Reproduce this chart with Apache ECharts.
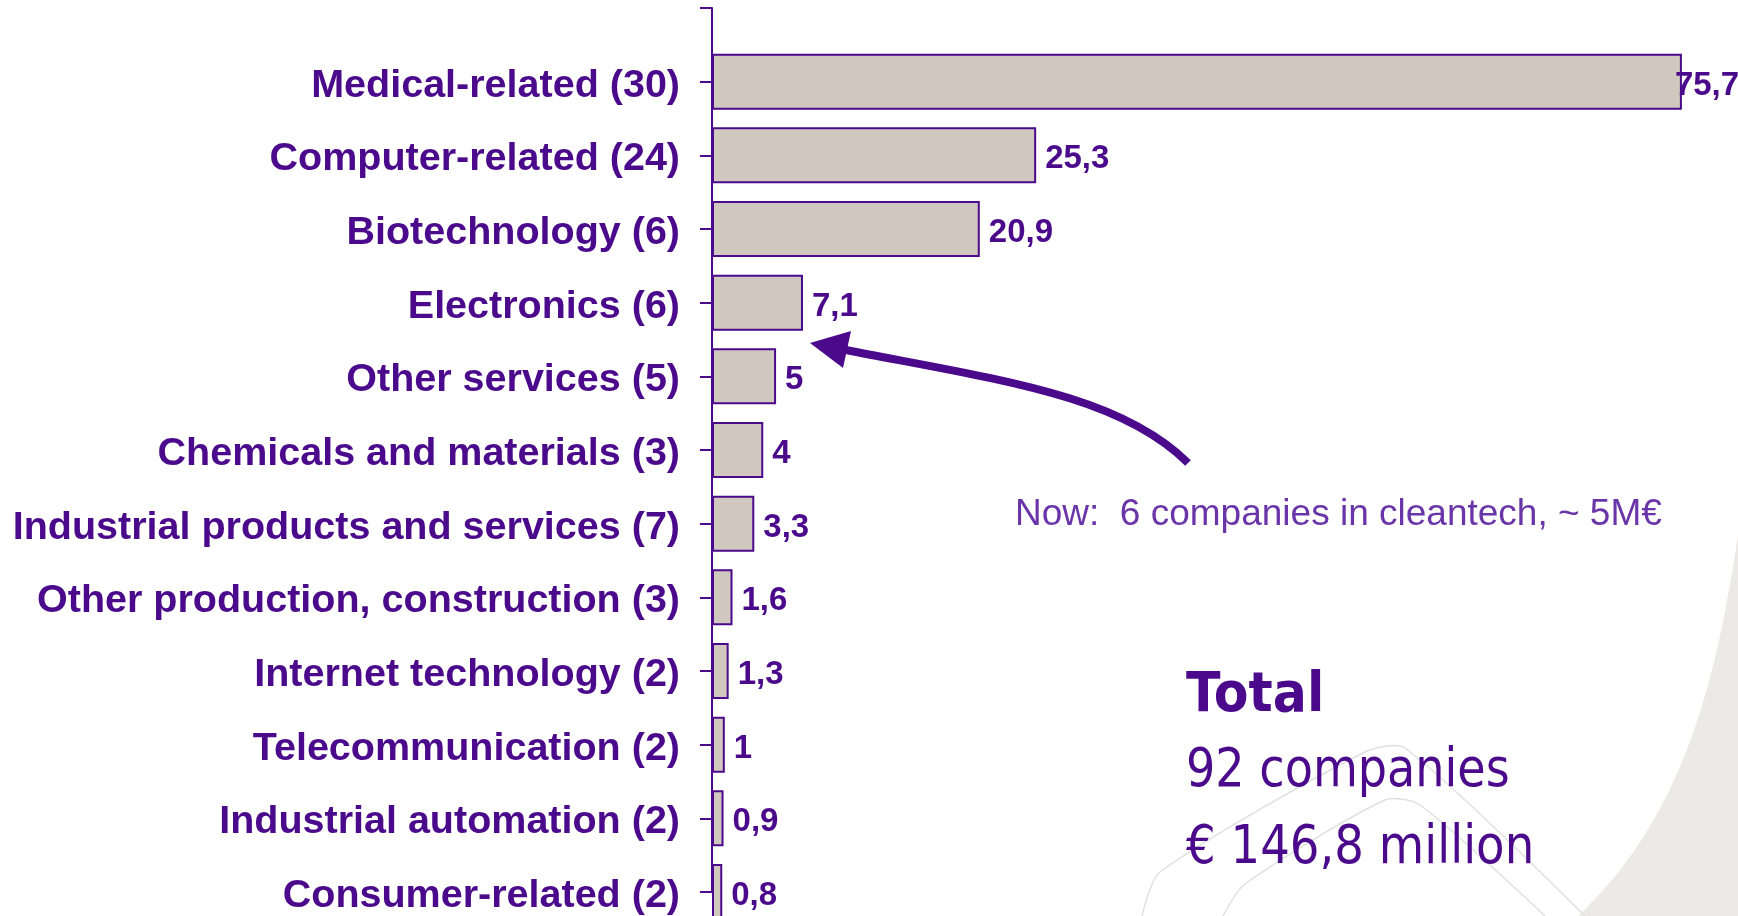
<!DOCTYPE html>
<html>
<head>
<meta charset="utf-8">
<script src="https://cdn.jsdelivr.net/npm/echarts@6/dist/echarts.min.js"></script>
<style>
  html, body { margin: 0; padding: 0; background: #ffffff; }
  #chart { width: 1738px; height: 916px; }
</style>
</head>
<body>
<div id="chart"></div>
<script>
// ---- data ----
const categories = [
  'Medical-related (30)',
  'Computer-related (24)',
  'Biotechnology (6)',
  'Electronics (6)',
  'Other services (5)',
  'Chemicals and materials (3)',
  'Industrial products and services (7)',
  'Other production, construction (3)',
  'Internet technology (2)',
  'Telecommunication (2)',
  'Industrial automation (2)',
  'Consumer-related (2)'
];
const values = [75.7, 25.3, 20.9, 7.1, 5, 4, 3.3, 1.6, 1.3, 1, 0.9, 0.8];
const noteText = 'Now:  6 companies in cleantech, ~ 5M€';
const totalLines = ['Total', '92 companies', '€ 146,8 million'];

const PURPLE = '#4B0A8C';
const LIGHT_PURPLE = '#6A35A8';

// decorative background curve (sampled cubic)
function cubicPts(p0, p1, p2, p3, n) {
  const pts = [];
  for (let i = 0; i <= n; i++) {
    const t = i / n, u = 1 - t;
    pts.push([
      u*u*u*p0[0] + 3*u*u*t*p1[0] + 3*u*t*t*p2[0] + t*t*t*p3[0],
      u*u*u*p0[1] + 3*u*u*t*p1[1] + 3*u*t*t*p2[1] + t*t*t*p3[1]
    ]);
  }
  return pts;
}
const swoosh = cubicPts([1738, 535], [1715, 690], [1680, 820], [1578, 916], 40).concat([[1738, 916]]);

const chart = echarts.init(document.getElementById('chart'));

const yData = [''].concat(categories);
const barData = ['-'].concat(values.map((v, i) =>
  i === 0 ? { value: v, label: { offset: [-16, 4] } } : v));

const option = {
  animation: false,
  backgroundColor: '#ffffff',
  grid: { left: 712, top: 8, width: 1025, bottom: 19 },
  xAxis: { type: 'value', min: 0, max: 80, show: false },
  yAxis: {
    type: 'category',
    inverse: true,
    boundaryGap: false,
    data: yData,
    axisLine: { show: true, lineStyle: { color: PURPLE, width: 2 } },
    axisTick: { show: true, length: 12, interval: 0, lineStyle: { color: PURPLE, width: 2 } },
    axisLabel: {
      interval: 0,
      margin: 32,
      formatter: v => v ? '{c|' + v + '}' : '',
      rich: {
        c: {
          color: PURPLE,
          fontFamily: 'Liberation Sans, Arial, sans-serif',
          fontWeight: 'bold',
          fontSize: 39.5,
          lineHeight: 44,
          padding: [8, 0, 0, 0]
        }
      }
    },
    splitLine: { show: false }
  },
  series: [{
    type: 'bar',
    data: barData,
    barWidth: 56,
    clip: true,
    itemStyle: { color: '#D0C8BE', borderColor: PURPLE, borderWidth: 2 },
    label: {
      show: true,
      position: 'right',
      distance: 9,
      offset: [0, 4],
      color: PURPLE,
      fontFamily: 'Liberation Sans, Arial, sans-serif',
      fontWeight: 'bold',
      fontSize: 33,
      formatter: p => String(p.value).replace('.', ',')
    }
  }],
  graphic: {
    elements: [
      {
        type: 'polygon', z: -10, silent: true,
        shape: { points: swoosh },
        style: { fill: '#ECEAE6' }
      },
      {
        type: 'polyline', z: -9, silent: true,
        shape: { points: [[1142, 916], [1160, 872], [1365, 752], [1405, 748], [1585, 916]], smooth: 0.25 },
        style: { fill: null, stroke: '#E0E0E0', lineWidth: 1.5 }
      },
      {
        type: 'polyline', z: -9, silent: true,
        shape: { points: [[1223, 916], [1245, 884], [1385, 800], [1420, 805], [1545, 916]], smooth: 0.25 },
        style: { fill: null, stroke: '#E0E0E0', lineWidth: 1.5 }
      },
      {
        type: 'bezierCurve', z: 100, silent: true,
        shape: { x1: 1188, y1: 463, cpx1: 1120, cpy1: 395, cpx2: 1000, cpy2: 380, x2: 846, y2: 350 },
        style: { stroke: PURPLE, lineWidth: 8, fill: null }
      },
      {
        type: 'polygon', z: 100, silent: true,
        shape: { points: [[810, 343], [851, 331], [843, 368]] },
        style: { fill: PURPLE }
      },
      {
        type: 'text', z: 100, silent: true,
        style: {
          x: 1015, y: 515, text: noteText,
          fill: LIGHT_PURPLE,
          font: '37px "Liberation Sans", Arial, sans-serif',
          verticalAlign: 'middle', align: 'left'
        }
      },
      {
        type: 'text', z: 100, silent: true,
        x: 1186, y: 697, scaleX: 0.92, scaleY: 1,
        style: {
          x: 0, y: 0, text: totalLines[0], fill: PURPLE,
          font: 'bold 55px "DejaVu Sans", sans-serif',
          verticalAlign: 'middle', align: 'left'
        }
      },
      {
        type: 'text', z: 100, silent: true,
        x: 1186, y: 772, scaleX: 0.87, scaleY: 1,
        style: {
          x: 0, y: 0, text: totalLines[1], fill: PURPLE,
          font: '53px "DejaVu Sans", sans-serif',
          verticalAlign: 'middle', align: 'left'
        }
      },
      {
        type: 'text', z: 100, silent: true,
        x: 1186, y: 849, scaleX: 0.88, scaleY: 1,
        style: {
          x: 0, y: 0, text: totalLines[2], fill: PURPLE,
          font: '53px "DejaVu Sans", sans-serif',
          verticalAlign: 'middle', align: 'left'
        }
      }
    ]
  }
};

chart.setOption(option);
</script>
</body>
</html>
